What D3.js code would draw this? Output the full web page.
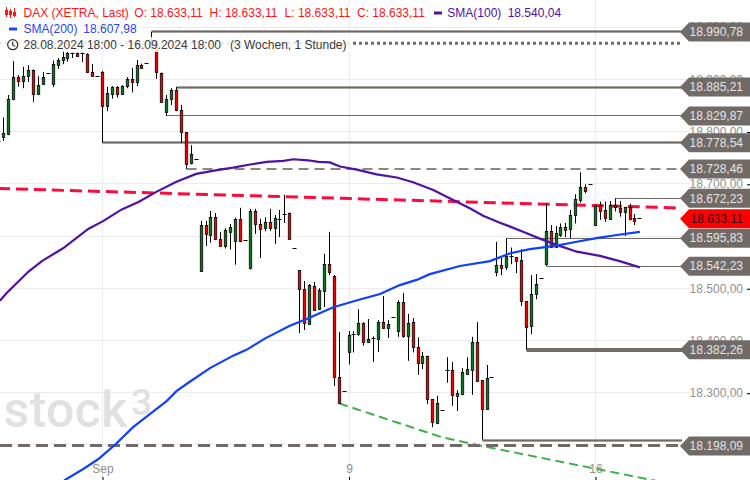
<!DOCTYPE html>
<html><head><meta charset="utf-8">
<style>html,body{margin:0;padding:0;background:#fff;overflow:hidden}svg{display:block;font-family:"Liberation Sans",Arial,sans-serif}</style>
<script src="https://cdn.jsdelivr.net/npm/d3@7"></script></head>
<body><svg id="c" width="750" height="480"></svg>
<script>
const opens=[18781,18790,18795,18862,18904,18897,18905,18916,18872,18890,18912,18890,18928,18936,18940,18950,18950,18950,18947,18914,18906,
18914,18848,18872,18885,18872,18885,18899,18894,18927,18931,
18960,18970,18912,18838,18860,18878,18841,18798,18739,18747,
18532,18621,18602,18636,18594,18580,18608,18589,18631,18592,
18537,18646,18623,18613,18625,18613,18631,18642,18644,18576,
18534,18498,18432,18504,18459,18493,18545,18522,18330,18303,
18378,18411,18411,18433,18396,18403,18403,18435,18424,18444,
18417,18473,18409,18435,18387,18356,18370,18287,18241,18266,
18343,18343,18294,18296,18336,18344,18397,18324,18268,18330,
18531,18544,18539,18560,18559,18553,18475,18426,18488,18519,
18545,18609,18578,18602,18617,18613,18640,18669,18693,18699,
18620,18659,18648,18633,18656,18653,18645,18654,18633,18633.11];
const closes=[18781,18797,18862,18904,18897,18906,18916,18871,18889,18903,18912,18929,18937,18942,18950,18950,18945,18950,18913,18907,18906,
18848,18873,18885,18872,18887,18899,18894,18927,18922,18931,
18970,18913,18856,18862,18878,18840,18798,18737,18757,18747,
18621,18604,18636,18593,18580,18610,18617,18631,18589,18592,
18646,18622,18613,18625,18613,18633,18631,18642,18595,18576,
18498,18432,18506,18459,18495,18545,18529,18329,18280,18303,
18410,18411,18433,18396,18402,18403,18435,18424,18431,18444,
18473,18407,18433,18388,18356,18370,18287,18243,18280,18266,
18343,18296,18299,18338,18345,18397,18323,18269,18328,18330,
18544,18539,18560,18560,18552,18474,18426,18488,18508,18519,
18609,18578,18605,18617,18612,18640,18670,18693,18686,18699,
18659,18648,18633,18659,18659,18645,18654,18631,18627,18633.11];
const highs=[18781,18827,18870,18935,18908,18924,18927,18919,18906,18914,18912,18936,18941,18956,18953,18951,18951,18951,18950,18929,18906,
18916,18886,18887,18887,18889,18904,18922,18937,18930,18931,
18990.78,18975,18913,18870,18883,18885.21,18851,18799,18774,18747,
18629,18629,18648,18644,18608,18615,18623,18635,18654,18592,
18652,18652,18633,18636,18652,18640,18650,18679,18645,18576,
18535,18514,18508,18512,18500,18566,18608,18525,18416,18303,
18418,18418,18460,18435,18441,18408,18439,18485,18439,18444,
18477,18491,18451,18443,18406,18378,18371,18288,18294,18266,
18368,18359,18305,18347,18368,18407,18435,18324,18353,18330,
18589,18558,18595.83,18578,18560,18575,18475,18525,18527,18519,
18663,18621,18619,18624,18625,18650,18680,18722,18699,18699,
18660,18666,18666,18667,18672.23,18667,18656,18662,18642,18633.11];
const lows=[18781,18782,18793,18860,18886,18883,18895,18857,18871,18889,18912,18885,18920,18929,18934,18941,18943,18933,18912,18906,18906,
18778.54,18839,18863,18865,18871,18883,18875,18887,18921,18931,
18958,18901,18855,18829.87,18851,18839,18778,18728.46,18737,18747,
18531,18581,18587,18592,18579,18576,18574,18545,18588,18592,
18536,18604,18558,18609,18610,18585,18598,18625,18594,18576,
18414,18420,18431,18458,18458,18464,18525,18313,18279.5,18303,
18354,18377,18409,18390,18395,18359,18378,18422,18405,18444,
18407,18405,18361,18377,18334,18345,18278,18234,18240,18266,
18319,18275,18265,18295,18335,18296,18322,18210,18267,18330,
18523,18525,18535,18546,18529,18466,18382.26,18412,18479,18519,
18542.23,18577,18577,18598,18598,18596,18624,18664,18682,18699,
18619,18631,18627,18631,18647,18637,18600,18630,18621,18633.11];

const sma100Bars=[0.2,1.6,6,8.7,13,18.1,21.2,24.9,28.3,32,36,40,44.2,47.5,50.9,54.3,57.7,59.7,62.7,64.8,67.1,69.2,72.6,76.6,80.7,84,88.1,90.8,95.5,98.2,101.6,103.7,106.3,109.7,113.1,117.2,121.9,125.9,130];
const sma100Vals=[18476,18491.5,18532,18552,18576.5,18613.5,18629,18651,18665,18685,18704,18719,18726,18731,18737,18742,18744,18747,18745,18742,18741,18733,18727,18718,18712,18703,18688,18675,18653,18639,18625.5,18618,18608,18595,18583,18570,18562,18552,18540.04];
const sma200Bars=[12.5,13.4,17.1,20.1,23.5,27.2,30.6,34,36,38.7,42.8,47.5,50.2,54,59,62.4,67.8,73.2,77.3,81.3,84.7,87.4,93.5,99.6,103.7,107.7,113.1,117.2,121.2,125.3,130];
const sma200Vals=[18125,18133,18154,18172.5,18200,18234,18259,18284,18303,18321,18347,18371,18382,18404,18428,18441,18463.5,18478.5,18489,18506,18516,18527,18542.6,18552,18567,18575,18581.5,18589,18596,18602,18607.98];

const redTrendBars=[-0.2,138.2], redTrendVals=[18691,18653.6];
const greenTrendBars=[69,89.9,98,138.2], greenTrendVals=[18279.5,18214.5,18198,18122];

const levelVals=[18990.78,18885.21,18829.87,18778.54,18728.46,18672.23,18595.83,18542.23,18382.26,18198.09];
const levelStart=[31,36,34,21,38,125,103,111,107,-1];
const levelKind=["mid","mid","thin","mid","dash","thin","thin","thin","thick","dashThick"];
const lowLevelVal=18209.4, lowLevelStart=98;
const dottedVal=18969, dottedStart=0;
const lastVal=18633.11;
const priceTicks=[18200,18300,18400,18500,18600,18700,18800,18900,19000];
const timeTickBars=[21,71,121], timeTickLabels=["Sep","9","16"];

const W=750,H=480,labelTip=680;
const svg=d3.select("#c");
const x=d3.scaleLinear().domain([0,130]).range([-1.03,639.87]);
const y=d3.scaleLinear().domain([18300,19000]).range([392.7,27.1]);
const de=d3.formatLocale({decimal:",",thousands:".",grouping:[3],currency:["","€"]}).format(",.2f");
const crisp=v=>Math.floor(v)+0.5;

// grid
const grid=svg.append("g").attr("stroke","#ececec").attr("stroke-width",1);
grid.selectAll("line.h").data(priceTicks).join("line").attr("class","h").attr("x1",0).attr("x2",690).attr("y1",d=>crisp(y(d))).attr("y2",d=>crisp(y(d)));
grid.selectAll("line.v").data(timeTickBars).join("line").attr("class","v").attr("y1",0).attr("y2",H).attr("x1",d=>crisp(x(d))).attr("x2",d=>crisp(x(d)));

// watermark
svg.append("text").attr("x",3.5).attr("y",427).attr("font-family","Roboto").attr("font-size",50).attr("font-weight",500).attr("letter-spacing",0.4).attr("fill","#e1e1e1").text("stock");
svg.append("text").attr("x",131).attr("y",415).attr("font-family","Roboto").attr("font-size",37).attr("font-weight",500).attr("fill","#e1e1e1").text("3");

// axes
const ay=svg.append("g").attr("transform",`translate(${W},0)`).call(d3.axisLeft(y).tickValues(priceTicks).tickSize(3).tickPadding(4).tickFormat(de));
ay.select(".domain").remove();
ay.selectAll("line").attr("stroke","#000").attr("transform","translate(0,0.5)");
ay.selectAll("text").attr("fill","#909090").attr("font-size",12).attr("font-family","Liberation Sans");
const ax=svg.append("g").attr("transform",`translate(0,${H})`).call(d3.axisTop(x).tickValues(timeTickBars).tickSize(3).tickPadding(4).tickFormat((d,i)=>timeTickLabels[i]));
ax.select(".domain").remove();
ax.selectAll("line").attr("stroke","#000");
ax.selectAll("text").attr("fill","#909090").attr("font-size",12).attr("font-family","Liberation Sans");

// trend lines
const line=d3.line().x(d=>x(d[0])).y(d=>y(d[1]));
svg.append("path").attr("d",line(d3.zip(greenTrendBars,greenTrendVals))).attr("fill","none").attr("stroke","#3fae49").attr("stroke-width",2).attr("stroke-dasharray","9 5");
svg.append("path").attr("d",line(d3.zip(redTrendBars,redTrendVals))).attr("fill","none").attr("stroke","#ff0a3c").attr("stroke-width",3).attr("stroke-dasharray","12 6");

// levels
const kinds={mid:{w:3,c:"#a8a4a0",d:null},thin:{w:1,c:"#6f6a66",d:null},thick:{w:4,c:"#716b67",d:null},dash:{w:2,c:"#8a8682",d:"10 6"},dashThick:{w:3,c:"#716b67",d:"12 6"}};
svg.append("line").attr("x1",crisp(x(lowLevelStart))).attr("x2",labelTip+2).attr("y1",crisp(y(lowLevelVal))).attr("y2",crisp(y(lowLevelVal))).attr("stroke","#a8a4a0").attr("stroke-width",3);
svg.append("line").attr("x1",crisp(x(lowLevelStart))).attr("x2",labelTip+2).attr("y1",crisp(y(lowLevelVal))).attr("y2",crisp(y(lowLevelVal))).attr("stroke","#6f6a66").attr("stroke-width",1);
svg.append("line").attr("x1",x(dottedStart)).attr("x2",labelTip+2).attr("y1",y(dottedVal)).attr("y2",y(dottedVal)).attr("stroke","#716b67").attr("stroke-width",3).attr("stroke-dasharray","3 3");
const levelY=(d,i)=>kinds[levelKind[i]].w%2?crisp(y(d)):Math.round(y(d));
svg.append("g").selectAll("line").data(levelVals).join("line")
 .attr("x1",(d,i)=>levelStart[i]<0?0:crisp(x(levelStart[i]))).attr("x2",labelTip+2)
 .attr("y1",levelY).attr("y2",levelY)
 .attr("stroke",(d,i)=>kinds[levelKind[i]].c).attr("stroke-width",(d,i)=>kinds[levelKind[i]].w)
 .attr("stroke-dasharray",(d,i)=>kinds[levelKind[i]].d);
svg.append("g").selectAll("line").data(levelVals.map((d,i)=>[d,i]).filter(a=>levelKind[a[1]]==="mid")).join("line")
 .attr("x1",a=>crisp(x(levelStart[a[1]]))).attr("x2",labelTip+2)
 .attr("y1",a=>crisp(y(a[0]))).attr("y2",a=>crisp(y(a[0]))).attr("stroke","#6f6a66").attr("stroke-width",1);

// candles
const candle=svg.append("g").selectAll("g").data(opens.map((o,i)=>({i,o,c:closes[i],h:highs[i],l:lows[i]}))).join("g").attr("class","candle");
candle.append("line").attr("x1",d=>crisp(x(d.i))).attr("x2",d=>crisp(x(d.i))).attr("y1",d=>y(d.h)).attr("y2",d=>y(d.l)).attr("stroke","#000").attr("stroke-width",1);
candle.filter(d=>d.o!==d.c).append("rect")
 .attr("x",d=>crisp(x(d.i))-1.25).attr("width",2.5)
 .attr("y",d=>crisp(y(Math.max(d.o,d.c)))).attr("height",d=>Math.max(1,Math.round(Math.abs(y(d.o)-y(d.c)))))
 .attr("fill",d=>d.c>d.o?"#08781e":"#f00000").attr("stroke","#000").attr("stroke-width",0.75);
candle.filter(d=>d.o===d.c).append("line")
 .attr("x1",d=>crisp(x(d.i))-2).attr("x2",d=>crisp(x(d.i))+2).attr("y1",d=>crisp(y(d.o))).attr("y2",d=>crisp(y(d.o))).attr("stroke","#000").attr("stroke-width",1);

// SMAs
svg.append("path").attr("d",line(d3.zip(sma100Bars,sma100Vals))).attr("fill","none").attr("stroke","#4f12a8").attr("stroke-width",2.2);
svg.append("path").attr("d",line(d3.zip(sma200Bars,sma200Vals))).attr("fill","none").attr("stroke","#1040ff").attr("stroke-width",2.2);

// price labels
function tag(v,fill,txt){
 const c=y(v),r=9.5;
 svg.append("path").attr("d",`M${labelTip},${c}L${labelTip+9},${c-r}H${W}V${c+r}H${labelTip+9}Z`).attr("fill",fill);
 svg.append("text").attr("x",743).attr("y",c+4.3).attr("text-anchor","end").attr("font-size",12).attr("fill",txt).text(de(v));
}
levelVals.forEach(v=>tag(v,"#716b67","#e6e4e2"));
tag(lastVal,"#ff0000","#3a0505");

// legend
const L=svg.append("g");
[[0,5,432,15],[0,21,142,15],[0,37,350,15]].forEach(r=>L.append("rect").attr("x",r[0]).attr("y",r[1]).attr("width",r[2]).attr("height",r[3]).attr("fill","#fff").attr("opacity",0.86));
const t=(tx,ty,s,c)=>L.append("text").attr("x",tx).attr("y",ty).attr("font-size",12).attr("fill",c).text(s);
const red="#ff1414",pur="#4f12a8",blu="#2a45f0";
[[8,7,17,10,15],[12,9,18,11,15],[16,8,17,12,16]].forEach(a=>{
 L.append("line").attr("x1",a[0]-1.5).attr("x2",a[0]-1.5).attr("y1",a[1]).attr("y2",a[2]).attr("stroke",red);
 L.append("rect").attr("x",a[0]-3).attr("y",a[3]).attr("width",3).attr("height",a[4]-a[3]).attr("fill",red);
});
t(23.5,17,"DAX (XETRA, Last)",red);
t(134.3,17,"O: "+de(lastVal),red);t(209.6,17,"H: "+de(lastVal),red);t(284.6,17,"L: "+de(lastVal),red);t(357,17,"C: "+de(lastVal),red);
L.append("rect").attr("x",434).attr("y",11.5).attr("width",8).attr("height",3).attr("fill",pur);
t(447.3,17,"SMA(100)",pur);t(507.7,17,de(18540.04),pur);
L.append("rect").attr("x",9).attr("y",27.5).attr("width",8).attr("height",3).attr("fill",blu);
t(23.5,33,"SMA(200)",blu);t(83.3,33,de(18607.98),blu);
L.append("circle").attr("cx",12.7).attr("cy",44.7).attr("r",5).attr("fill","none").attr("stroke","#333").attr("stroke-width",1.2);
L.append("path").attr("d","M12.7,41.5V45L15.2,46.6").attr("fill","none").attr("stroke","#333").attr("stroke-width",1.1);
t(23.5,49,"28.08.2024 18:00 - 16.09.2024 18:00","#3a3a3a");
t(230,49,"(3 Wochen, 1 Stunde)","#3a3a3a");
</script></body></html>
